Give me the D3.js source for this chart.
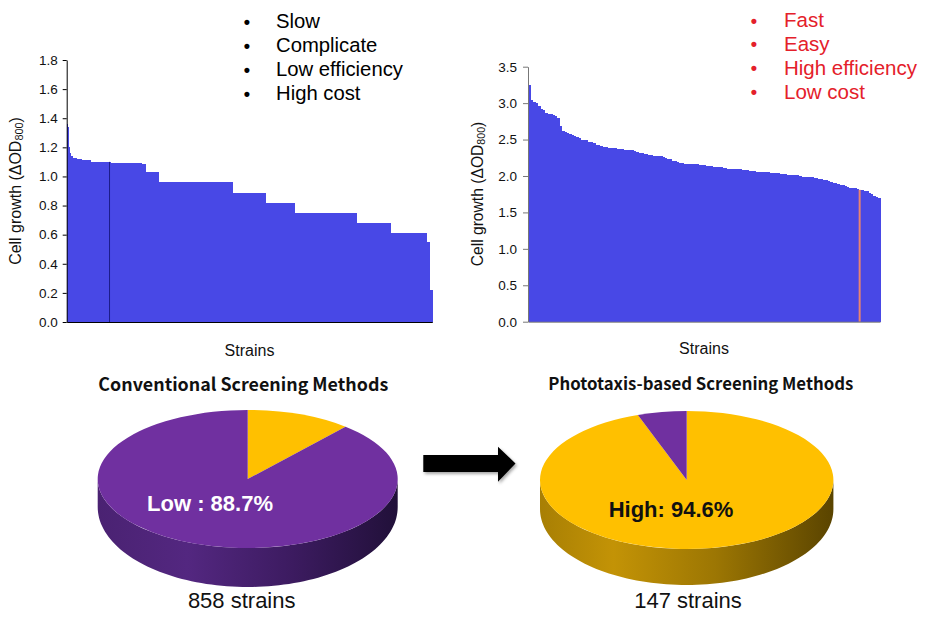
<!DOCTYPE html>
<html><head><meta charset="utf-8">
<script src="https://cdn.jsdelivr.net/npm/d3@7"></script>
<style>body{margin:0;background:#fff;} svg{display:block;}</style>
</head><body>
<svg id="c" width="933" height="628"></svg>
<script>
// ---------- DATA ----------
// Conventional screening: sorted cell growth, run-length (level, number of strains)
const leftLevels = [1.36,1.34,1.20,1.16,1.14,1.13,1.12,1.11,1.10,1.095,1.085,1.03,0.96,0.885,0.82,0.75,0.68,0.61,0.55,0.22];
const leftCounts = [2,2,2,3,5,8,13,20,47,74,9,30,175,76,68,145,81,83,9,6];
const leftMarkedStrain = 100;
// Phototaxis-based screening: sorted cell growth of 147 strains
const rightValues = [
 3.25,3.04,3.02,3.00,2.96,2.92,2.90,2.86,2.85,2.85,2.84,2.83,2.79,2.68,2.62,2.61,2.59,2.58,2.56,2.55,
 2.53,2.52,2.50,2.49,2.49,2.47,2.46,2.45,2.43,2.42,2.41,2.40,2.40,2.39,2.39,2.38,2.38,2.37,2.37,2.37,
 2.36,2.36,2.35,2.35,2.34,2.33,2.32,2.31,2.30,2.30,2.29,2.29,2.28,2.28,2.27,2.27,2.26,2.25,2.24,2.23,
 2.21,2.20,2.19,2.18,2.18,2.17,
 2.17,2.17,2.16,2.16,2.16,2.15,
 2.15,2.15,2.14,2.14,2.14,2.13,2.13,
 2.12,2.12,2.11,2.11,2.10,2.10,2.10,
 2.09,2.09,2.09,2.08,2.08,2.08,2.07,
 2.07,2.07,2.06,2.06,2.06,2.05,2.05,
 2.05,2.04,2.04,2.04,2.04,2.03,2.03,
 2.03,2.02,2.02,2.02,2.01,2.01,2.00,
 1.99,1.99,1.98,1.98,
 1.98,1.97,1.97,1.96,1.96,1.95,
 1.94,1.93,1.92,1.91,
 1.90,1.89,1.88,1.87,
 1.86,1.85,1.84,1.83,1.83,1.82,
 1.81,1.81,1.80,1.79,
 1.77,1.75,1.73,
 1.71,1.70];
const rightMarkedStrain = 138;
const leftTicks = [0,0.2,0.4,0.6,0.8,1.0,1.2,1.4,1.6,1.8];
const rightTicks = [0,0.5,1.0,1.5,2.0,2.5,3.0,3.5];
const leftNotes = ["Slow","Complicate","Low efficiency","High cost"];
const rightNotes = ["Fast","Easy","High efficiency","Low cost"];
const conventionalLabels = ["High","Low"];
const conventionalShares = [11.3,88.7];
const phototaxisLabels = ["High","Low"];
const phototaxisShares = [94.6,5.4];
const conventionalTotal = 858;
const phototaxisTotal = 147;

// ---------- DRAW ----------
const svg = d3.select("#c");
const BAR = "#4848E6", PURPLE = "#7030A0", GOLD = "#FFC000";
const defs = svg.append("defs");

function fit(sel, w){
  const n = sel.node(); const cur = n.getComputedTextLength();
  const fs = parseFloat(sel.attr("font-size"));
  sel.attr("font-size", fs * w / cur);
  return sel;
}

function barPanel(opt){
  const g = svg.append("g");
  const x = d3.scaleLinear().domain([0, opt.n]).range([opt.x0, opt.x1]);
  const y = d3.scaleLinear().domain([0, opt.max]).range([opt.yb, opt.yt]);
  g.append("g").selectAll("rect").data(opt.bars).join("rect")
    .attr("x", d => x(d.start))
    .attr("width", d => x(d.start + d.count) - x(d.start) + 0.6)
    .attr("y", d => y(d.value))
    .attr("height", d => y(0) - y(d.value))
    .attr("fill", BAR).attr("shape-rendering","crispEdges");
  // marked strain
  const m = opt.marked;
  g.append("line").attr("x1", x(m.i + 0.5)).attr("x2", x(m.i + 0.5))
    .attr("y1", y(0)).attr("y2", y(m.value))
    .attr("stroke", opt.markColor).attr("stroke-width", opt.markWidth);
  // axes
  const ay = g.append("g").attr("transform", `translate(${opt.x0},0)`)
    .call(d3.axisLeft(y).tickValues(opt.ticks).tickFormat(d3.format(".1f"))
      .tickSize(opt.tickSize).tickPadding(opt.tickPad).tickSizeOuter(0));
  ay.selectAll("text").attr("font-family","Liberation Sans, Arial, sans-serif")
    .attr("font-size", 13.5).attr("fill","#111");
  ay.selectAll("line,path").attr("stroke", opt.axisColor);
  const ax = g.append("g").attr("transform", `translate(0,${opt.yb})`)
    .call(d3.axisBottom(x).tickValues([]).tickSizeOuter(0));
  ax.selectAll("path").attr("stroke", opt.axisColor);
  // axis titles
  const t = g.append("text").attr("transform", `translate(${opt.ytx},${opt.yty}) rotate(-90)`)
    .attr("text-anchor","middle").attr("dominant-baseline","central")
    .attr("font-family","Liberation Sans, Arial, sans-serif").attr("font-size",16).attr("fill","#111");
  t.append("tspan").text("Cell growth (\u0394OD");
  t.append("tspan").text("800").attr("font-size", 11).attr("dy", 4);
  t.append("tspan").text(")").attr("dy", -4);
  fit(t, opt.ytw);
  t.selectAll("tspan").filter((d,i)=>i===1).attr("font-size", parseFloat(t.attr("font-size"))*0.68);
  g.append("text").attr("x", opt.sx).attr("y", opt.sy).attr("text-anchor","middle")
    .attr("dominant-baseline","central")
    .attr("font-family","Liberation Sans, Arial, sans-serif").attr("font-size",16).attr("fill","#111")
    .text("Strains");
  // notes
  opt.notes.forEach((s, i) => {
    g.append("text").attr("x", opt.bx).attr("y", opt.ny[i] + 1).attr("text-anchor","middle")
      .attr("dominant-baseline","central").attr("font-family","Liberation Sans, Arial, sans-serif")
      .attr("font-size", 18).attr("font-weight","bold").attr("fill", opt.noteColor).text("\u2022");
    const tt = g.append("text").attr("x", opt.tx).attr("y", opt.ny[i])
      .attr("dominant-baseline","central").attr("font-family","Liberation Sans, Arial, sans-serif")
      .attr("font-size", 19).attr("fill", opt.noteColor).text(s);
    if (s === opt.fitNote) opt.noteSize = parseFloat(fit(tt, opt.fitW).attr("font-size"));
  });
  g.selectAll("text").filter(function(){ return d3.select(this).attr("font-size") == 19; })
    .attr("font-size", opt.noteSize);
}

// left bars from runs
let acc = 0;
const leftBars = leftLevels.map((v, i) => { const b = {start: acc, count: leftCounts[i], value: v}; acc += leftCounts[i]; return b; });
const leftN = acc;
let mv = 0; leftBars.forEach(b => { if (leftMarkedStrain >= b.start && leftMarkedStrain < b.start + b.count) mv = b.value; });

barPanel({bars: leftBars, n: leftN, max: 1.8, x0: 66.7, x1: 432.3, yb: 322, yt: 60,
  ticks: leftTicks, tickSize: 4, tickPad: 5, axisColor: "#000",
  marked: {i: leftMarkedStrain, value: mv}, markColor: "#1c1c8a", markWidth: 1,
  ytx: 15, yty: 191, ytw: 148, sx: 249.5, sy: 350,
  notes: leftNotes, noteColor: "#000", bx: 247, tx: 276, ny: [20.5, 44.7, 69, 93],
  fitNote: "Low efficiency", fitW: 127});

const rightBars = rightValues.map((v, i) => ({start: i, count: 1, value: v}));
barPanel({bars: rightBars, n: rightValues.length, max: 3.5, x0: 528, x1: 880, yb: 321.7, yt: 66.7,
  ticks: rightTicks, tickSize: 5, tickPad: 6, axisColor: "#777",
  marked: {i: rightMarkedStrain, value: rightValues[rightMarkedStrain]}, markColor: "#E8846F", markWidth: 2,
  ytx: 477, yty: 194, ytw: 145, sx: 704, sy: 348,
  notes: rightNotes, noteColor: "#E4202A", bx: 754, tx: 784, ny: [19.5, 43.3, 67.3, 91],
  fitNote: "High efficiency", fitW: 133});

// ---------- 3D PIES ----------
function grad(id, stops){
  const lg = defs.append("linearGradient").attr("id", id).attr("x1","0").attr("x2","1").attr("y1","0").attr("y2","0");
  stops.forEach(s => lg.append("stop").attr("offset", s[0]).attr("stop-color", s[1]));
}
grad("sideP", [[0,"#4a2272"],[0.3,"#532780"],[0.65,"#3c1b60"],[1,"#211039"]]);
grad("sideG", [[0,"#a87f04"],[0.25,"#c39306"],[0.6,"#9c7603"],[1,"#5a4400"]]);

function pie3d(o){
  const g = svg.append("g");
  const {cx, cy, rx, ry, cyb, ryb} = o;
  // side (front half)
  const pts = [];
  d3.range(0, 181, 2).forEach(a => { const t = a*Math.PI/180; pts.push([cx + rx*Math.cos(t), cy + ry*Math.sin(t)]); });
  d3.range(180, -1, -2).forEach(a => { const t = a*Math.PI/180; pts.push([cx + rx*Math.cos(t), cyb + ryb*Math.sin(t)]); });
  g.append("path").attr("d", d3.line()(pts) + "Z").attr("fill", `url(#${o.side})`);
  // top face
  const arcs = d3.pie().sort(null)(o.values);
  const face = g.append("g").attr("transform", `translate(${cx},${cy}) scale(1,${ry/rx})`);
  face.selectAll("path").data(arcs).join("path")
    .attr("d", d3.arc().innerRadius(0).outerRadius(rx))
    .attr("fill", (d,i) => o.colors[i]);
  g.append("text").attr("x", o.lx).attr("y", o.ly).attr("text-anchor","middle").attr("dominant-baseline","central")
    .attr("font-family","Liberation Sans, Arial, sans-serif").attr("font-weight","bold")
    .attr("font-size", 22).attr("fill", o.lcolor).text(o.label);
  g.append("text").attr("x", o.tx).attr("y", 383).attr("text-anchor","middle").attr("dominant-baseline","central")
    .attr("font-family","Noto Sans CJK KR, Noto Sans, sans-serif").attr("font-weight","bold")
    .attr("font-size", 16).attr("fill", "#111").text(o.title).call(s => fit(s, o.tw));
  g.append("text").attr("x", o.nx).attr("y", 600).attr("text-anchor","middle").attr("dominant-baseline","central")
    .attr("font-family","Liberation Sans, Arial, sans-serif")
    .attr("font-size", 22).attr("fill", "#111").text(o.total + " strains");
}

pie3d({cx: 247.7, cy: 479, rx: 150, ry: 69, cyb: 507, ryb: 80, side: "sideP",
  values: conventionalShares, colors: [GOLD, PURPLE],
  label: `${conventionalLabels[1]} : ${conventionalShares[1]}%`, lx: 210, ly: 503, lcolor: "#fff",
  title: "Conventional Screening Methods", tx: 243.3, tw: 290, total: conventionalTotal, nx: 241.7});
pie3d({cx: 686.7, cy: 480, rx: 146.7, ry: 69, cyb: 509, ryb: 76, side: "sideG",
  values: phototaxisShares, colors: [GOLD, PURPLE],
  label: `${phototaxisLabels[0]}: ${phototaxisShares[0]}%`, lx: 671, ly: 509, lcolor: "#111",
  title: "Phototaxis-based Screening Methods", tx: 700.8, tw: 305, total: phototaxisTotal, nx: 688});

// arrow
const f = defs.append("filter").attr("id","sh").attr("x","-20%").attr("y","-30%").attr("width","150%").attr("height","180%");
f.append("feDropShadow").attr("dx",1.5).attr("dy",2).attr("stdDeviation",1.5).attr("flood-color","#000").attr("flood-opacity",0.35);
svg.append("path").attr("d","M423.3,455 L498,455 L498,446.7 L515.5,463.5 L498,481.7 L498,472 L423.3,472 Z")
  .attr("fill","#000").attr("filter","url(#sh)");
</script>
</body></html>
